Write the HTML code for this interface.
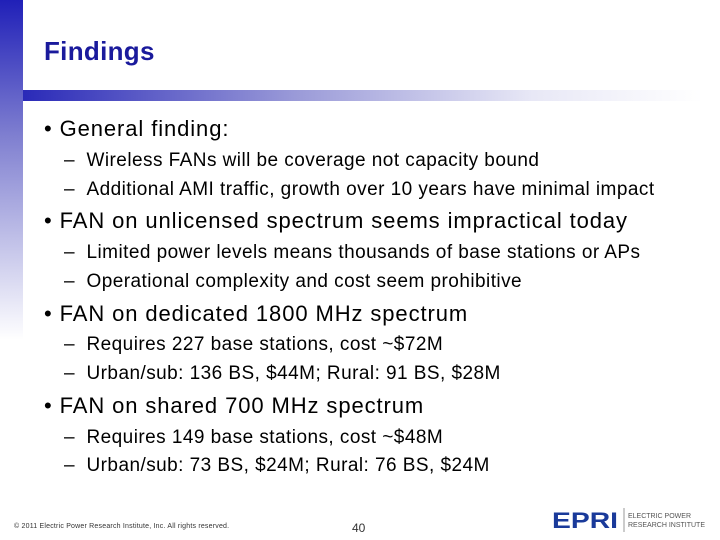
<!DOCTYPE html>
<html><head><meta charset="utf-8"><style>
body{margin:0;width:720px;height:540px;position:relative;background:#fff;overflow:hidden;font-family:"Liberation Sans",sans-serif}
.lb{position:absolute;left:0;top:0;width:23px;height:340px;background:linear-gradient(#2020b8,#7f7fd0 40%,#fff)}
.hb{position:absolute;left:23px;top:90px;width:680px;height:11px;background:linear-gradient(90deg,#2a2ab8,#9a9ad8 40%,#e8e8f6 75%,#fff)}
h1{position:absolute;left:44px;top:36px;margin:0;font-size:26px;font-weight:bold;color:#1a1a9c;letter-spacing:0.3px}
.t{position:absolute;white-space:nowrap;color:#000;transform:translateY(-50%)}
.l1{left:44px;font-size:22px;letter-spacing:0.9px}
.l2{left:64px;font-size:19px;letter-spacing:0.45px}
.ft{position:absolute;left:14px;top:523px;font-size:7px;color:#333;letter-spacing:0.2px}
.pg{position:absolute;left:352px;top:521px;font-size:12px;color:#333}
</style></head><body>
<div class="lb"></div>
<div class="hb"></div>
<h1>Findings</h1>
<div class="t l1" style="top:129px">• General finding:</div>
<div class="t l2" style="top:161px">– &nbsp;Wireless FANs will be coverage not capacity bound</div>
<div class="t l2" style="top:190px">– &nbsp;Additional AMI traffic, growth over 10 years have minimal impact</div>
<div class="t l1" style="top:221px">• FAN on unlicensed spectrum seems impractical today</div>
<div class="t l2" style="top:253px">– &nbsp;Limited power levels means thousands of base stations or APs</div>
<div class="t l2" style="top:282px">– &nbsp;Operational complexity and cost seem prohibitive</div>
<div class="t l1" style="top:314px">• FAN on dedicated 1800 MHz spectrum</div>
<div class="t l2" style="top:345px">– &nbsp;Requires 227 base stations, cost ~$72M</div>
<div class="t l2" style="top:374px">– &nbsp;Urban/sub: 136 BS, $44M; Rural: 91 BS, $28M</div>
<div class="t l1" style="top:406px">• FAN on shared 700 MHz spectrum</div>
<div class="t l2" style="top:438px">– &nbsp;Requires 149 base stations, cost ~$48M</div>
<div class="t l2" style="top:466px">– &nbsp;Urban/sub: 73 BS, $24M; Rural: 76 BS, $24M</div>
<div class="ft">© 2011 Electric Power Research Institute, Inc. All rights reserved.</div>
<div class="pg">40</div>
<svg style="position:absolute;left:550px;top:506px" width="170" height="28">
<text x="2" y="22" font-family="Liberation Sans" font-weight="bold" font-size="22" fill="#1a3a9a" textLength="66" lengthAdjust="spacingAndGlyphs">EPRI</text>
<line x1="74" y1="2" x2="74" y2="26" stroke="#999" stroke-width="1"/>
<text x="78" y="12" font-family="Liberation Sans" font-size="7" fill="#555">ELECTRIC POWER</text>
<text x="78" y="21" font-family="Liberation Sans" font-size="7" fill="#555">RESEARCH INSTITUTE</text>
</svg>
</body></html>
